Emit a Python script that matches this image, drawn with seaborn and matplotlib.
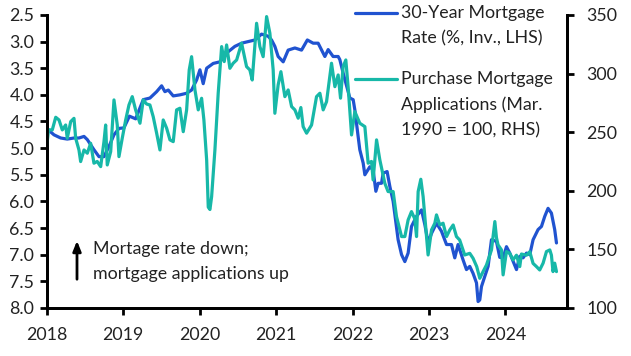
import matplotlib
matplotlib.use("Agg")
import matplotlib.pyplot as plt
import seaborn as sns
import pandas as pd
from matplotlib.lines import Line2D

# ---------------- data ----------------
rate_t = [2018.00, 2018.095, 2018.183, 2018.269, 2018.357, 2018.422, 2018.488, 2018.531,
          2018.618, 2018.684, 2018.749, 2018.814, 2018.880, 2018.945, 2019.010, 2019.082,
          2019.163, 2019.263, 2019.350, 2019.438, 2019.503, 2019.546, 2019.590, 2019.655,
          2019.742, 2019.830, 2019.895, 2019.961, 2020.004, 2020.047, 2020.092, 2020.178,
          2020.265, 2020.374, 2020.461, 2020.549, 2020.635, 2020.723, 2020.810, 2020.897,
          2020.941, 2020.984, 2021.027, 2021.093, 2021.158, 2021.246, 2021.333, 2021.409,
          2021.485, 2021.550, 2021.638, 2021.681, 2021.746, 2021.812, 2021.834, 2021.877,
          2021.965, 2022.008, 2022.030, 2022.073, 2022.095, 2022.139, 2022.161, 2022.226,
          2022.269, 2022.305, 2022.335, 2022.379, 2022.400, 2022.452, 2022.488, 2022.531,
          2022.596, 2022.641, 2022.684, 2022.727, 2022.771, 2022.837, 2022.902, 2022.946,
          2022.989, 2023.033, 2023.098, 2023.163, 2023.229, 2023.294, 2023.337, 2023.380,
          2023.446, 2023.490, 2023.533, 2023.576, 2023.621, 2023.642, 2023.664, 2023.686,
          2023.729, 2023.773, 2023.817, 2023.882, 2023.925, 2023.969, 2024.013, 2024.056,
          2024.144, 2024.187, 2024.230, 2024.275, 2024.318, 2024.361, 2024.426, 2024.471,
          2024.514, 2024.557, 2024.601, 2024.644, 2024.667]
rate_v = [4.63, 4.75, 4.81, 4.83, 4.81, 4.81, 4.78, 4.84,
          5.03, 5.16, 5.16, 4.97, 4.75, 4.63, 4.62, 4.40,
          4.45, 4.09, 4.06, 3.94, 3.83, 3.94, 3.91, 4.02,
          4.00, 3.97, 3.91, 3.72, 3.53, 3.79, 3.50, 3.41,
          3.38, 3.19, 3.09, 3.03, 3.00, 2.97, 2.86, 2.90,
          2.97, 3.09, 3.28, 3.38, 3.16, 3.12, 3.16, 2.97,
          3.03, 3.03, 3.28, 3.15, 3.28, 3.28, 3.34, 3.59,
          4.06, 4.09, 4.28, 4.78, 5.03, 5.28, 5.50, 5.35,
          5.41, 5.81, 5.66, 5.66, 5.47, 5.44, 5.72, 6.00,
          6.72, 7.00, 7.13, 6.97, 6.47, 6.28, 6.16, 6.44,
          6.78, 6.60, 6.41, 6.56, 6.81, 6.81, 7.06, 6.81,
          7.10, 7.28, 7.22, 7.35, 7.53, 7.88, 7.85, 7.60,
          7.41, 7.22, 6.72, 6.75, 7.05, 7.06, 6.85, 6.97,
          7.28, 7.03, 7.06, 6.97, 7.00, 6.72, 6.53, 6.47,
          6.28, 6.13, 6.22, 6.53, 6.78]

apps_t = [2018.000, 2018.024, 2018.073, 2018.118, 2018.161, 2018.204, 2018.248, 2018.269,
          2018.314, 2018.357, 2018.379, 2018.422, 2018.444, 2018.488, 2018.531, 2018.575,
          2018.618, 2018.661, 2018.706, 2018.749, 2018.771, 2018.792, 2018.837, 2018.880,
          2018.923, 2018.945, 2018.988, 2019.033, 2019.076, 2019.119, 2019.163, 2019.220,
          2019.263, 2019.307, 2019.350, 2019.393, 2019.438, 2019.481, 2019.524, 2019.569,
          2019.612, 2019.655, 2019.699, 2019.742, 2019.786, 2019.830, 2019.864, 2019.895,
          2019.939, 2019.982, 2020.026, 2020.056, 2020.092, 2020.113, 2020.135, 2020.157,
          2020.200, 2020.243, 2020.288, 2020.322, 2020.353, 2020.396, 2020.439, 2020.484,
          2020.549, 2020.614, 2020.657, 2020.688, 2020.745, 2020.788, 2020.831, 2020.876,
          2020.919, 2020.962, 2020.984, 2021.027, 2021.063, 2021.115, 2021.158, 2021.203,
          2021.246, 2021.289, 2021.324, 2021.354, 2021.399, 2021.464, 2021.529, 2021.573,
          2021.616, 2021.660, 2021.725, 2021.769, 2021.812, 2021.843, 2021.877, 2021.912,
          2021.943, 2021.987, 2022.030, 2022.095, 2022.161, 2022.204, 2022.248, 2022.269,
          2022.314, 2022.357, 2022.422, 2022.465, 2022.531, 2022.575, 2022.641, 2022.684,
          2022.727, 2022.771, 2022.814, 2022.837, 2022.858, 2022.893, 2022.923, 2022.967,
          2022.988, 2023.033, 2023.076, 2023.098, 2023.141, 2023.184, 2023.229, 2023.272,
          2023.316, 2023.359, 2023.401, 2023.467, 2023.533, 2023.576, 2023.624, 2023.664,
          2023.707, 2023.752, 2023.817, 2023.861, 2023.882, 2023.903, 2023.948, 2023.969,
          2024.013, 2024.056, 2024.099, 2024.144, 2024.187, 2024.209, 2024.275, 2024.318,
          2024.361, 2024.405, 2024.448, 2024.492, 2024.536, 2024.580, 2024.601, 2024.622,
          2024.644, 2024.667]
apps_v = [237.6, 252.0, 251.9, 262.7, 260.4, 251.9, 256.1, 244.8,
          259.0, 261.8, 244.8, 234.8, 224.9, 234.8, 232.0, 240.5,
          223.5, 225.0, 220.6, 241.9, 256.1, 222.0, 233.4, 277.5,
          256.1, 229.1, 244.8, 260.4, 273.2, 280.3, 269.0, 257.6,
          277.5, 274.0, 273.2, 263.2, 249.1, 234.8, 260.4, 253.3,
          243.4, 241.9, 269.0, 270.4, 250.4, 269.0, 303.1, 314.4,
          286.0, 269.0, 278.9, 260.4, 226.3, 186.0, 184.0, 195.0,
          234.8, 283.2, 323.0, 310.2, 324.4, 304.5, 308.8, 311.6,
          325.9, 305.9, 303.1, 294.5, 342.9, 323.0, 314.4, 348.6,
          334.4, 303.1, 266.1, 290.3, 301.6, 280.3, 286.0, 271.8,
          269.0, 261.9, 271.0, 254.7, 249.1, 256.1, 280.3, 283.2,
          269.0, 276.0, 308.8, 288.8, 298.8, 279.0, 305.9, 311.6,
          288.0, 247.6, 267.5, 257.6, 254.7, 223.5, 225.0, 209.2,
          243.4, 226.3, 206.4, 199.3, 199.3, 177.9, 160.9, 160.9,
          175.1, 182.2, 176.0, 160.9, 199.3, 209.8, 195.0, 160.9,
          145.2, 166.6, 172.3, 179.4, 170.8, 172.3, 160.9, 166.6,
          170.8, 160.9, 158.0, 145.2, 146.6, 142.4, 135.3, 125.3,
          131.0, 136.7, 149.5, 173.7, 160.0, 153.8, 149.5, 128.2,
          148.1, 146.6, 141.0, 145.0, 135.3, 146.0, 145.0, 148.0,
          138.0, 135.3, 132.4, 138.2, 148.1, 149.5, 145.0, 131.0,
          138.2, 131.0]

x_ticks = [2018, 2019, 2020, 2021, 2022, 2023, 2024]
left_ticks = [2.5, 3.0, 3.5, 4.0, 4.5, 5.0, 5.5, 6.0, 6.5, 7.0, 7.5, 8.0]
right_ticks = [100, 150, 200, 250, 300, 350]

rate_label = ["30-Year Mortgage", "Rate (%, Inv., LHS)"]
apps_label = ["Purchase Mortgage", "Applications (Mar.", "1990 = 100, RHS)"]
note_label = ["Mortage rate down;", "mortgage applications up"]

# ---------------- style ----------------
sns.set_theme(style="white")
plt.rcParams["font.family"] = ["Lato", "DejaVu Sans"]
BLUE = "#2053d0"
TEAL = "#17b8a8"
TXT = "#222222"
FS = 12.8

fig = plt.figure(figsize=(6.31, 3.56), dpi=100)
ax = fig.add_axes([0.074, 0.135, 0.824, 0.823])
ax2 = ax.twinx()

df_rate = pd.DataFrame({"t": rate_t, "v": rate_v})
df_apps = pd.DataFrame({"t": apps_t, "v": apps_v})
sns.lineplot(data=df_rate, x="t", y="v", ax=ax, color=BLUE, linewidth=2.3)
sns.lineplot(data=df_apps, x="t", y="v", ax=ax2, color=TEAL, linewidth=2.3)

ax.set_xlim(2018, 2024.8)
ax.set_ylim(8.0, 2.5)
ax2.set_ylim(100, 350)
ax.set_xticks(x_ticks)
ax.set_xticklabels([str(t) for t in x_ticks])
ax.set_yticks(left_ticks)
ax.set_yticklabels([f"{v:.1f}" for v in left_ticks])
ax2.set_yticks(right_ticks)
ax2.set_yticklabels([str(v) for v in right_ticks])
for a in (ax, ax2):
    a.set_xlabel("")
    a.set_ylabel("")
    a.grid(False)
    for s in a.spines.values():
        s.set_linewidth(2.0)
        s.set_color("black")
    a.spines["top"].set_visible(False)

ax2.set_zorder(ax.zorder + 1)
ax.patch.set_visible(True)
ax2.patch.set_visible(False)

ax.tick_params(axis="x", direction="out", length=5, width=2, color="black",
               labelsize=FS, labelcolor=TXT, pad=9, bottom=True)
ax.tick_params(axis="y", direction="out", length=5, width=2, color="black",
               labelsize=FS, labelcolor=TXT, pad=4, left=True)
ax2.tick_params(axis="y", direction="out", length=5, width=2, color="black",
                labelsize=FS, labelcolor=TXT, pad=9, right=True)

# legend (manual, aligned to first text line)
def legend_entry(y0, color, lines):
    fig.add_artist(Line2D([355 / 631, 397 / 631], [1 - y0 / 356, 1 - y0 / 356],
                          color=color, linewidth=2.3, transform=fig.transFigure))
    for i, ln in enumerate(lines):
        fig.text(401 / 631, 1 - (y0 + i * 25.5) / 356, ln, fontsize=FS,
                 color=TXT, va="center", ha="left")

legend_entry(13, BLUE, rate_label)
legend_entry(79, TEAL, apps_label)

# annotation arrow and note
ax.annotate("", xy=(77 / 631, 1 - 238 / 356), xytext=(77 / 631, 1 - 282 / 356),
            xycoords="figure fraction", textcoords="figure fraction",
            arrowprops=dict(arrowstyle="-|>,head_length=0.5,head_width=0.2",
                            color="black", lw=2))
for i, ln in enumerate(note_label):
    fig.text(93 / 631, 1 - (249 + i * 25.5) / 356, ln, fontsize=FS,
             color=TXT, va="center", ha="left")

fig.savefig("out.png", dpi=100)
